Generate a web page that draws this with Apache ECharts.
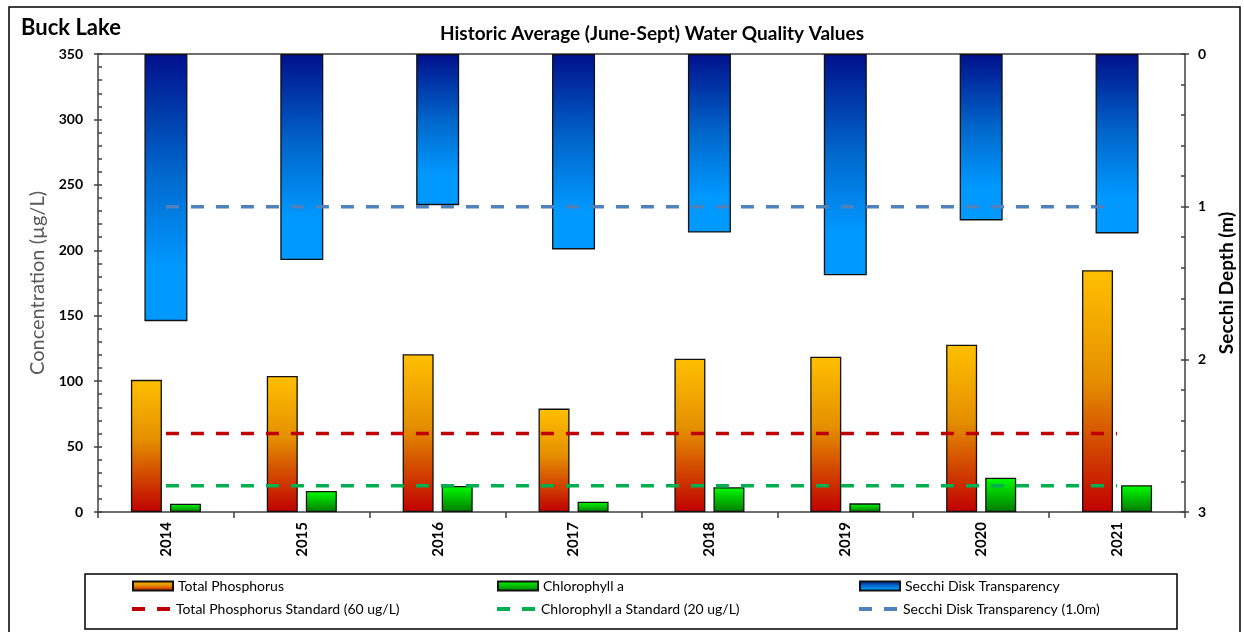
<!DOCTYPE html>
<html>
<head>
<meta charset="utf-8">
<script src="https://cdn.jsdelivr.net/npm/echarts@6/dist/echarts.min.js"></script>
<style>
html,body{margin:0;padding:0;background:#fff;}
#chart{width:1244px;height:632px;}
</style>
</head>
<body>
<div id="chart"></div>
<script>
// ---- Data ----
var years = ['2014', '2015', '2016', '2017', '2018', '2019', '2020', '2021'];
var totalPhosphorus = [101, 104, 120.5, 79, 117.2, 118.7, 127.9, 184.7];
var chlorophyllA = [6.3, 16, 19.9, 7.9, 18.9, 6.6, 26.2, 20.4];
var secchiDepth = [1.75, 1.35, 0.99, 1.28, 1.17, 1.45, 1.09, 1.175];
var tpStandard = [60, 60, 60, 60, 60, 60, 60, 60];
var chlStandard = [20, 20, 20, 20, 20, 20, 20, 20];
var secchiStandard = [1.0, 1.0, 1.0, 1.0, 1.0, 1.0, 1.0, 1.0];
var leftTicks = {min: 0, max: 350, interval: 50};
var rightTicks = {min: 0, max: 3, interval: 1};

var FONT = 'Lato, "Open Sans", sans-serif';
var axisColor = '#404040';
var DASH_ICON = 'path://M0,0H13V4H0Z M25,0H38V4H25Z';

function grad(stops) {
  return new echarts.graphic.LinearGradient(0, 0, 0, 1, stops);
}
var tpFill = grad([{offset: 0, color: '#FFC000'}, {offset: 0.45, color: '#E59000'}, {offset: 1, color: '#C00000'}]);
var chlFill = grad([{offset: 0, color: '#00FF00'}, {offset: 1, color: '#007A00'}]);
var secFill = grad([{offset: 0, color: '#00108C'}, {offset: 0.45, color: '#0068CC'}, {offset: 0.8, color: '#0099FF'}, {offset: 1, color: '#0099FF'}]);

var chart = echarts.init(document.getElementById('chart'), null, {renderer: 'canvas'});

var legendBase = {
  padding: 0, itemWidth: 40, itemHeight: 9, itemGap: 0,
  textStyle: {fontFamily: FONT, fontSize: 14, color: '#000'},
  selectedMode: false
};
function lg(name, left, top, icon, h, color) {
  var item = {name: name, icon: icon};
  if (color) item.itemStyle = {color: color, borderWidth: 0};
  return Object.assign({}, legendBase, {data: [item], left: left, top: top, itemHeight: h});
}

var option = {
  backgroundColor: '#fff',
  animation: false,
  textStyle: {fontFamily: FONT},
  title: [
    {text: 'Buck Lake', left: 16, top: 12, textStyle: {fontFamily: FONT, fontSize: 22, fontWeight: 'bold', color: '#000'}},
    {text: 'Historic Average (June-Sept) Water Quality Values', left: 647, textAlign: 'center', top: 19, textStyle: {fontFamily: FONT, fontSize: 19, fontWeight: 'bold', color: '#000'}}
  ],
  grid: {left: 98, right: 53, top: 54, bottom: 120},
  legend: [
    lg('Total Phosphorus', 132, 579, 'rect', 9),
    lg('Chlorophyll a', 497, 579, 'rect', 9),
    lg('Secchi Disk Transparency', 859, 579, 'rect', 9),
    lg('Total Phosphorus Standard (60 ug/L)', 132, 602, DASH_ICON, 4, '#C00000'),
    lg('Chlorophyll a Standard (20 ug/L)', 497, 602, DASH_ICON, 4, '#00B050'),
    lg('Secchi Disk Transparency (1.0m)', 859, 602, DASH_ICON, 4, '#4F81BD')
  ],
  xAxis: [
    {
      type: 'category', data: years, position: 'bottom',
      axisLine: {show: true, lineStyle: {color: axisColor, width: 1.5}},
      axisTick: {show: true, length: 6, lineStyle: {color: axisColor, width: 1.5}},
      axisLabel: {rotate: 90, fontFamily: FONT, fontSize: 15, fontWeight: 'bold', color: '#000', margin: 10},
      splitLine: {show: false}
    },
    {
      type: 'category', data: years, position: 'top',
      axisLine: {show: true, lineStyle: {color: axisColor, width: 1.5}},
      axisTick: {show: false}, axisLabel: {show: false}, splitLine: {show: false}
    }
  ],
  yAxis: [
    {
      type: 'value', min: leftTicks.min, max: leftTicks.max, interval: leftTicks.interval, position: 'left',
      axisLine: {show: true, lineStyle: {color: axisColor, width: 1.5}},
      axisTick: {show: true, inside: true, length: 4, lineStyle: {color: axisColor, width: 1.5}},
      minorTick: {show: true, splitNumber: 5, length: 4, lineStyle: {color: axisColor, width: 1.5}},
      splitLine: {show: false},
      axisLabel: {fontFamily: FONT, fontSize: 14, fontWeight: 'bold', color: '#000', margin: 15},
      name: 'Concentration (µg/L)', nameLocation: 'middle', nameGap: 44,
      nameTextStyle: {fontFamily: FONT, fontSize: 20, color: '#595959'}
    },
    {
      type: 'value', min: rightTicks.min, max: rightTicks.max, interval: rightTicks.interval, position: 'right', inverse: true,
      axisLine: {show: true, lineStyle: {color: axisColor, width: 1.5}},
      axisTick: {show: true, inside: true, length: 4, lineStyle: {color: axisColor, width: 1.5}},
      minorTick: {show: true, splitNumber: 5, length: 4, lineStyle: {color: axisColor, width: 1.5}},
      splitLine: {show: false},
      axisLabel: {fontFamily: FONT, fontSize: 14, fontWeight: 'bold', color: '#000', margin: 13},
      name: 'Secchi Depth (m)', nameLocation: 'middle', nameGap: 29, nameRotate: 90,
      nameTextStyle: {fontFamily: FONT, fontSize: 19, fontWeight: 'bold', color: '#000'}
    },
    {
      type: 'value', min: leftTicks.min, max: leftTicks.max, interval: leftTicks.interval, position: 'left',
      axisLine: {show: false}, axisTick: {show: true, length: 4, lineStyle: {color: axisColor, width: 1.5}},
      axisLabel: {show: false}, splitLine: {show: false}
    },
    {
      type: 'value', min: rightTicks.min, max: rightTicks.max, interval: rightTicks.interval, position: 'right', inverse: true,
      axisLine: {show: false}, axisTick: {show: true, length: 4, lineStyle: {color: axisColor, width: 1.5}},
      axisLabel: {show: false}, splitLine: {show: false}
    }
  ],
  series: [
    {
      name: 'Total Phosphorus', type: 'bar', xAxisIndex: 0, yAxisIndex: 0, data: totalPhosphorus,
      barWidth: 31, barGap: '26%', z: 2,
      itemStyle: {color: tpFill, borderColor: '#111', borderWidth: 1.3}
    },
    {
      name: 'Chlorophyll a', type: 'bar', xAxisIndex: 0, yAxisIndex: 0, data: chlorophyllA,
      barWidth: 31, barGap: '26%', z: 2,
      itemStyle: {color: chlFill, borderColor: '#111', borderWidth: 1.3}
    },
    {
      name: 'Secchi Disk Transparency', type: 'bar', xAxisIndex: 1, yAxisIndex: 1, data: secchiDepth,
      barWidth: 43, z: 2,
      itemStyle: {color: secFill, borderColor: '#111', borderWidth: 1.3}
    },
    {
      name: 'Total Phosphorus Standard (60 ug/L)', type: 'line', xAxisIndex: 0, yAxisIndex: 0, data: tpStandard,
      symbol: 'none', z: 5, lineStyle: {color: '#C00000', width: 3.5, type: [13, 12]}, itemStyle: {color: '#C00000'}
    },
    {
      name: 'Chlorophyll a Standard (20 ug/L)', type: 'line', xAxisIndex: 0, yAxisIndex: 0, data: chlStandard,
      symbol: 'none', z: 5, lineStyle: {color: '#00B050', width: 3.5, type: [13, 12]}, itemStyle: {color: '#00B050'}
    },
    {
      name: 'Secchi Disk Transparency (1.0m)', type: 'line', xAxisIndex: 0, yAxisIndex: 1, data: secchiStandard,
      symbol: 'none', z: 5, lineStyle: {color: '#4F81BD', width: 3.5, type: [13, 12]}, itemStyle: {color: '#4F81BD'}
    }
  ],
  graphic: [
    {type: 'rect', left: 6.5, top: 4.5, shape: {width: 1231, height: 626}, style: {fill: 'none', stroke: '#000', lineWidth: 1.5}, z: 100},
    {type: 'rect', left: 82.5, top: 571.5, shape: {width: 1092, height: 55}, style: {fill: 'none', stroke: '#000', lineWidth: 1.5}, z: 100}
  ]
};
chart.setOption(option);
</script>
</body>
</html>
